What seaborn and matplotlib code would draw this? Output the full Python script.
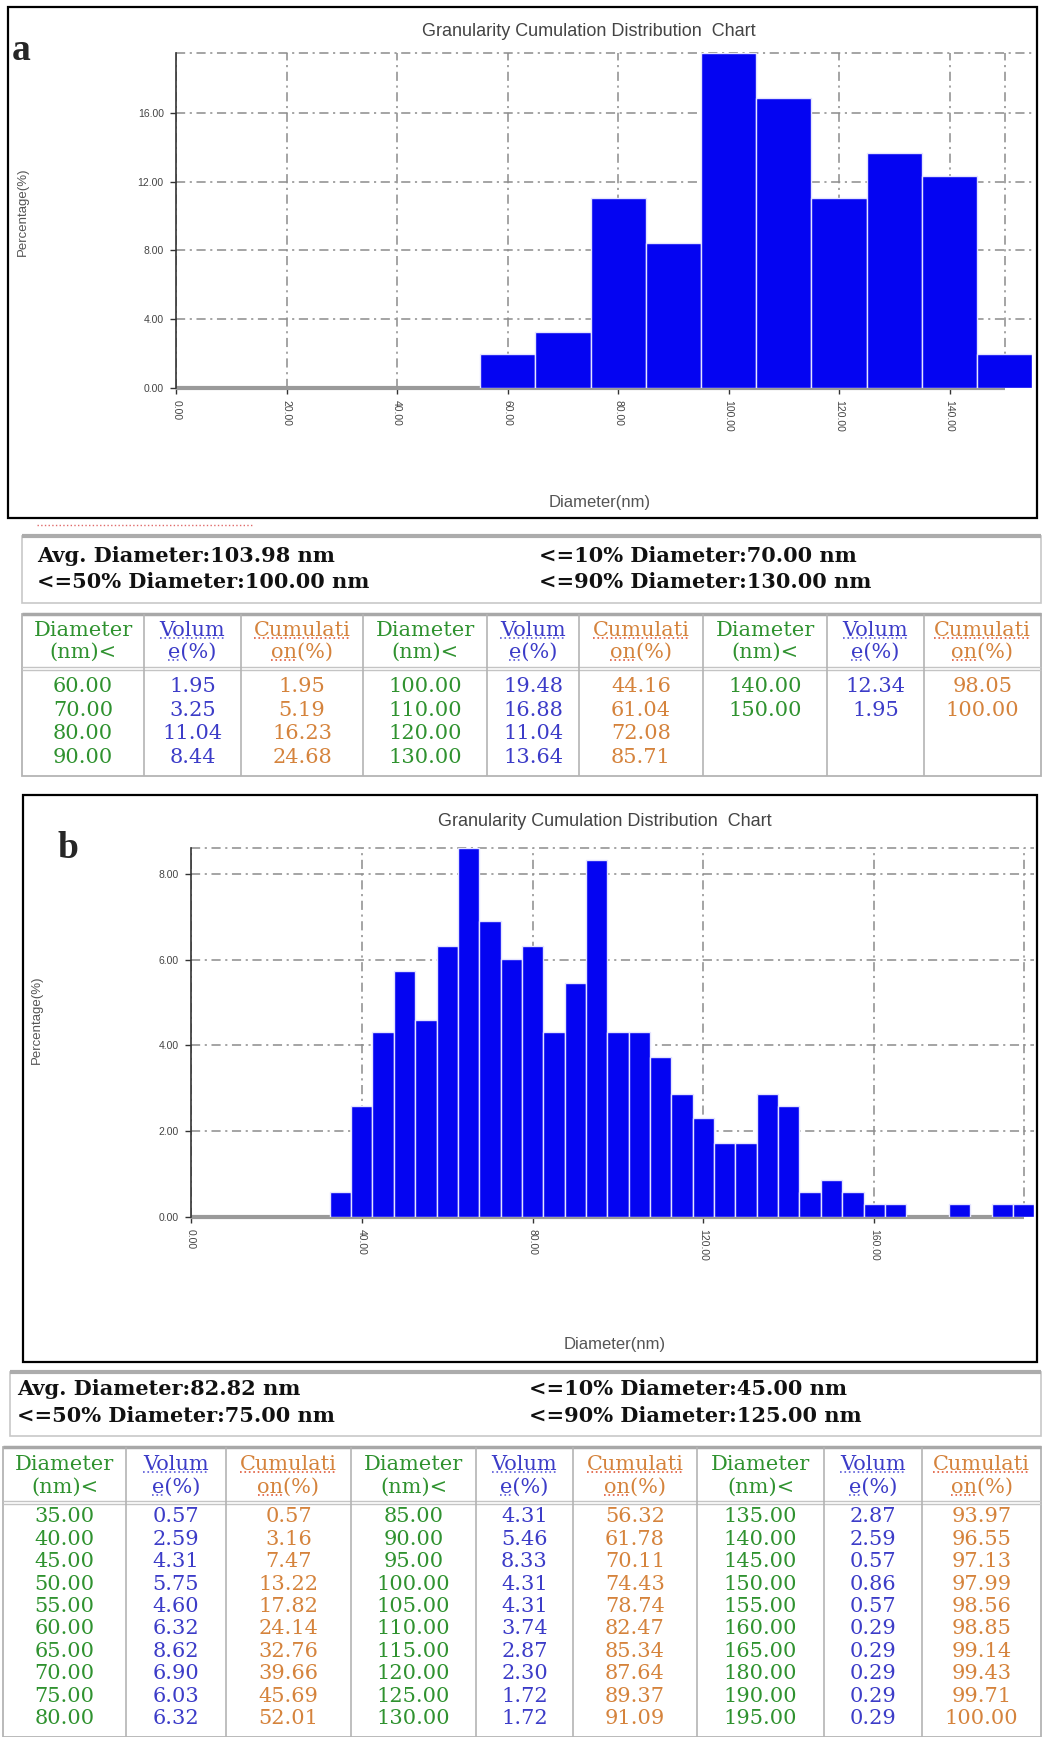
import numpy as np
import pandas as pd
import matplotlib
matplotlib.use("Agg")
import matplotlib.pyplot as plt
import seaborn as sns
from matplotlib.patches import Rectangle

diam_a = [60, 70, 80, 90, 100, 110, 120, 130, 140, 150]
vol_a = [1.95, 3.25, 11.04, 8.44, 19.48, 16.88, 11.04, 13.64, 12.34, 1.95]
cum_a = [1.95, 5.19, 16.23, 24.68, 44.16, 61.04, 72.08, 85.71, 98.05, 100.00]
avg_a, d10_a, d50_a, d90_a = 103.98, 70.00, 100.00, 130.00

diam_b = [35, 40, 45, 50, 55, 60, 65, 70, 75, 80,
          85, 90, 95, 100, 105, 110, 115, 120, 125, 130,
          135, 140, 145, 150, 155, 160, 165, 180, 190, 195]
vol_b = [0.57, 2.59, 4.31, 5.75, 4.60, 6.32, 8.62, 6.90, 6.03, 6.32,
         4.31, 5.46, 8.33, 4.31, 4.31, 3.74, 2.87, 2.30, 1.72, 1.72,
         2.87, 2.59, 0.57, 0.86, 0.57, 0.29, 0.29, 0.29, 0.29, 0.29]
cum_b = [0.57, 3.16, 7.47, 13.22, 17.82, 24.14, 32.76, 39.66, 45.69, 52.01,
         56.32, 61.78, 70.11, 74.43, 78.74, 82.47, 85.34, 87.64, 89.37, 91.09,
         93.97, 96.55, 97.13, 97.99, 98.56, 98.85, 99.14, 99.43, 99.71, 100.00]
avg_b, d10_b, d50_b, d90_b = 82.82, 45.00, 75.00, 125.00

xticks_a = [0, 20, 40, 60, 80, 100, 120, 140]
yticks_a = [0, 4, 8, 12, 16]
xticks_b = [0, 40, 80, 120, 160]
yticks_b = [0, 2, 4, 6, 8]

TITLE = "Granularity Cumulation Distribution  Chart"
HEADERS = [("Diameter", "(nm)<"), ("Volum", "e(%)"), ("Cumulati", "on(%)")]

# ---------------- styling ----------------
W, H = 1043, 1737
BAR = "#0404f2"
GRID = "#8c8c8c"
DASH = (0, (6, 3, 1.4, 3))
GREEN, BLUE, ORANGE = "#2f922f", "#3c3cc8", "#d5833c"
SERIF = ["DejaVu Serif"]

sns.set_style("white")
plt.rcParams["font.family"] = ["Liberation Sans", "DejaVu Sans"]

fig = plt.figure(figsize=(W / 100, H / 100), dpi=100)
over = fig.add_axes([0, 0, 1, 1])
over.set_xlim(0, W)
over.set_ylim(H, 0)
over.axis("off")


def rect(l, t, r, b):
    return [l / W, 1 - b / H, (r - l) / W, (b - t) / H]


def draw_chart(ax, diam, vol, xmax, xedge, xticks, yticks):
    df = pd.DataFrame({"diameter": diam, "volume": vol})
    sns.barplot(data=df, x="diameter", y="volume", native_scale=True, width=1,
                color=BAR, saturation=1, edgecolor="#e4e4ff", linewidth=1,
                errorbar=None, ax=ax, zorder=2)
    ymax = max(vol)
    ax.set_xlim(0, xmax)
    ax.set_ylim(0, ymax)
    ax.set_xticks(xticks)
    ax.set_xticklabels([f"{v:.2f}" for v in xticks], rotation=-90)
    ax.set_yticks(yticks)
    ax.set_yticklabels([f"{v:.2f}" for v in yticks])
    ax.set_xlabel("")
    ax.set_ylabel("")
    ax.grid(True, color=GRID, lw=1.1, linestyle=DASH)
    ax.set_axisbelow(True)
    ax.axvline(xedge, color=GRID, lw=1.1, linestyle=DASH, zorder=0.5, clip_on=False)
    ax.axhline(ymax, color=GRID, lw=1.1, linestyle=DASH, zorder=0.5, clip_on=False)
    ax.hlines(0, 0, xedge, color="#9a9a9a", lw=3, zorder=1.5, clip_on=False)
    for s in ["top", "right", "bottom"]:
        ax.spines[s].set_visible(False)
    ax.spines["left"].set_color("#333333")
    ax.spines["left"].set_linewidth(1.2)
    ax.tick_params(axis="both", labelsize=7.5, labelcolor="#444444", color="#333333",
                   length=4, width=1, pad=5, direction="out", bottom=True, left=True)


def draw_frame(l, t, r, b, letter, lx, ly, title_x, title_y, xl_x, xl_y, yl_x, yl_y):
    over.add_patch(Rectangle((l, t), r - l, b - t, fill=False, ec="black", lw=1.6))
    over.text(lx, ly, letter, fontsize=27, fontweight="bold", family=["Liberation Serif"],
              ha="center", va="center")
    over.text(title_x, title_y, TITLE, fontsize=13, color="#444444", ha="center", va="center")
    over.text(xl_x, xl_y, "Diameter(nm)", fontsize=12, color="#555555", ha="center", va="center")
    over.text(yl_x, yl_y, "Percentage(%)", fontsize=9.5, color="#555555", ha="center",
              va="center", rotation=90)


def draw_info(l, t, r, b, xl, xr, y1, y2, avg, d10, d50, d90):
    over.add_patch(Rectangle((l, t), r - l, b - t, fill=False, ec="#c8c8c8", lw=1.2))
    over.hlines(t, l, r, color="#acacac", lw=3)
    kw = dict(fontsize=15, fontweight="bold", family=SERIF, color="#111111", va="center")
    over.text(xl, y1, f"Avg. Diameter:{avg:.2f} nm", **kw)
    over.text(xl, y2, f"<=50% Diameter:{d50:.2f} nm", **kw)
    over.text(xr, y1, f"<=10% Diameter:{d10:.2f} nm", **kw)
    over.text(xr, y2, f"<=90% Diameter:{d90:.2f} nm", **kw)


underlines = []


def draw_table(top, sep, bottom, edges, hy1, hy2, row0, step, diam, vol, cum, per_group):
    l, r = edges[0], edges[-1]
    over.add_patch(Rectangle((l, top), r - l, bottom - top, fill=False, ec="#b4b4b4", lw=1.3))
    over.hlines(top, l, r, color="#a8a8a8", lw=2.5)
    over.hlines([sep - 1.5, sep + 1.5], l, r, color="#c4c4c4", lw=1)
    over.vlines(edges[1:-1], top, bottom, color="#b4b4b4", lw=1.2)
    centers = [(edges[i] + edges[i + 1]) / 2 for i in range(len(edges) - 1)]
    colors = [GREEN, BLUE, ORANGE]
    kw = dict(fontsize=15, family=SERIF, ha="center", va="center")
    for g in range(3):
        for k, (h1, h2) in enumerate(HEADERS):
            cx = centers[3 * g + k]
            t1 = over.text(cx, hy1, h1, color=colors[k], **kw)
            t2 = over.text(cx, hy2, h2, color=colors[k], **kw)
            if k == 1:
                underlines.append((t1, 0, 1, "#5a5ad8"))
                underlines.append((t2, 0, 0.25, "#5a5ad8"))
            elif k == 2:
                underlines.append((t1, 0, 1, "#e05a3a"))
                underlines.append((t2, 0, 0.42, "#e05a3a"))
        rows = range(g * per_group, min((g + 1) * per_group, len(diam)))
        for j, i in enumerate(rows):
            y = row0 + j * step
            over.text(centers[3 * g], y, f"{diam[i]:.2f}", color=GREEN, **kw)
            over.text(centers[3 * g + 1], y, f"{vol[i]:.2f}", color=BLUE, **kw)
            over.text(centers[3 * g + 2], y, f"{cum[i]:.2f}", color=ORANGE, **kw)


# ---------------- panel a ----------------
draw_frame(8, 7, 1037, 518, "a", 21, 50, 589, 32, 600, 502, 23, 212)
ax_a = fig.add_axes(rect(176.3, 53, 176.3 + 155 * 5.523, 388))
draw_chart(ax_a, diam_a, vol_a, 155, 150, xticks_a, yticks_a)
over.hlines(525, 37, 253, color="#e06a6a", lw=1, linestyle=":")
draw_info(22, 536, 1041, 603, 37, 539, 556, 582, avg_a, d10_a, d50_a, d90_a)
draw_table(614, 668, 776, [22, 144, 241, 363, 487, 579, 703, 827, 924, 1041],
           630, 652, 687, 23.4, diam_a, vol_a, cum_a, 4)

# ---------------- panel b ----------------
draw_frame(23, 795, 1037, 1362, "b", 68, 848, 605, 822, 615, 1345, 37, 1020)
ax_b = fig.add_axes(rect(191, 847.7, 191 + 197.5 * 4.27, 1216.6))
draw_chart(ax_b, diam_b, vol_b, 197.5, 195, xticks_b, yticks_b)
draw_info(10, 1372, 1041, 1436, 17, 529, 1389, 1416, avg_b, d10_b, d50_b, d90_b)
draw_table(1447, 1502, 1737, [3, 126, 226, 351, 476, 573, 697, 824, 922, 1041],
           1464, 1487, 1517, 22.4, diam_b, vol_b, cum_b, 10)

# spell-check style underlines under the header words
fig.canvas.draw()
renderer = fig.canvas.get_renderer()
inv = over.transData.inverted()
for t, f0, f1, c in underlines:
    bb = t.get_window_extent(renderer)
    (x0, y0), (x1, _) = inv.transform([(bb.x0, bb.y0), (bb.x1, bb.y1)])
    over.hlines(y0 - 1, x0 + f0 * (x1 - x0), x0 + f1 * (x1 - x0), color=c, lw=1.2, linestyle=":")

fig.savefig("out.png", dpi=100)
